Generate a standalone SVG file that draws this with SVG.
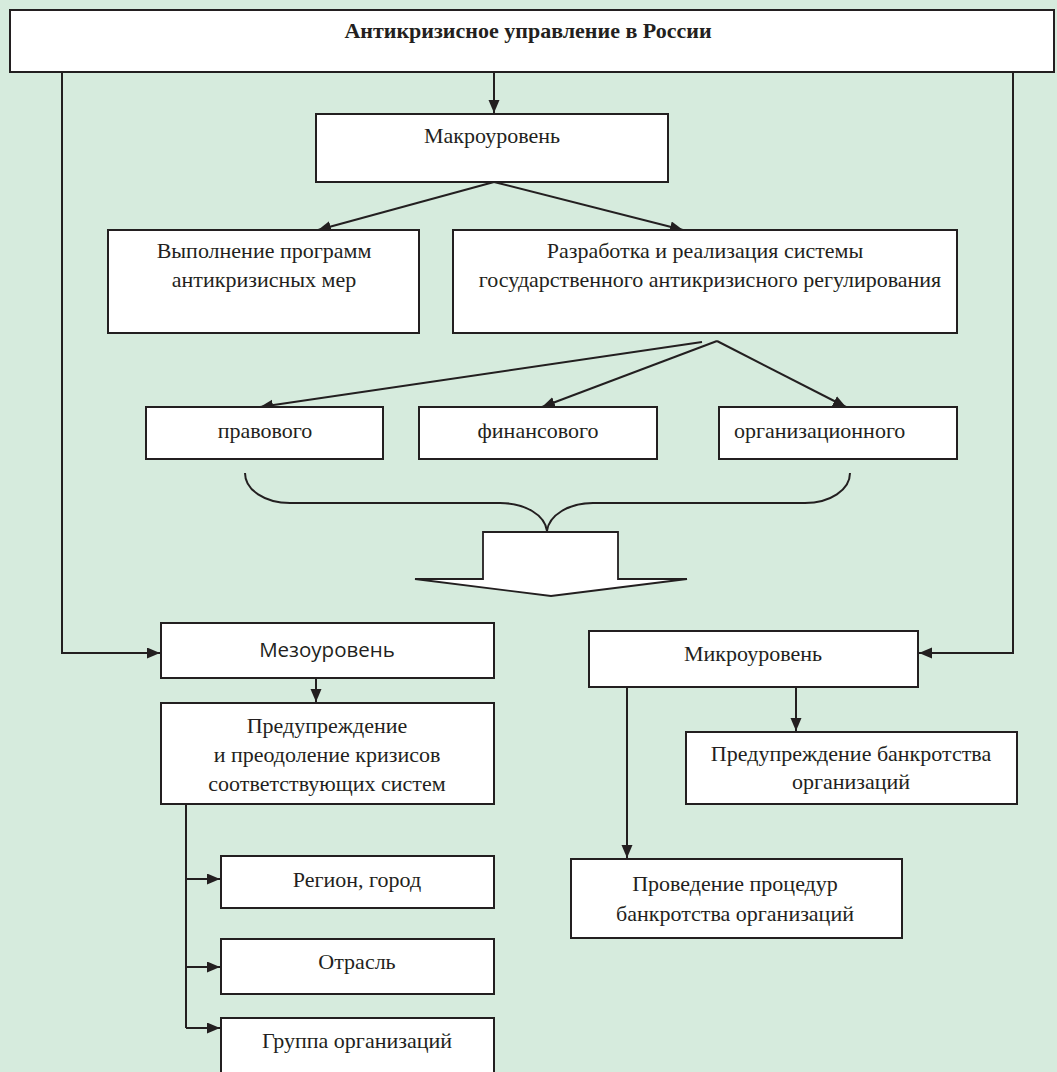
<svg xmlns="http://www.w3.org/2000/svg" width="1057" height="1072" viewBox="0 0 1057 1072">
<style>
.box{fill:#fff;stroke:#231f20;stroke-width:2}
.t{font-family:"Liberation Serif","Times New Roman",serif;font-size:22px;fill:#231f20;text-anchor:middle}
.tl{text-anchor:start}
.b{font-weight:bold;font-size:22px}
.s{font-family:"Open Sans","Noto Sans",sans-serif;font-size:20.5px;fill:#231f20;text-anchor:middle}
.c{fill:none;stroke:#231f20;stroke-width:2}
.ca{fill:none;stroke:#231f20;stroke-width:2;marker-end:url(#ah)}
</style>
<defs>
<marker id="ah" markerUnits="userSpaceOnUse" markerWidth="14" markerHeight="12" refX="13" refY="5.5" orient="auto">
<path d="M0,0 L13,5.5 L0,11 z" fill="#231f20"/>
</marker>
</defs>
<rect width="1057" height="1072" fill="#d6ebdd"/>

<g id="connectors">
<path class="ca" d="M62,72 V653 H160"/>
<path class="ca" d="M1013,72 V653 H919"/>
<path class="ca" d="M494,72 V113"/>
<path class="ca" d="M494,182 L318,230"/>
<path class="ca" d="M494,182 L683,230"/>
<path class="ca" d="M702,342 L260,407"/>
<path class="ca" d="M717,341 L542,407"/>
<path class="ca" d="M717,341 L846,407"/>
<path class="ca" d="M316,678 V702"/>
<path class="ca" d="M796,687 V731"/>
<path class="ca" d="M627,687 V858"/>
<path class="c" d="M186,804 V1028"/>
<path class="ca" d="M186,879 H220"/>
<path class="ca" d="M186,967 H220"/>
<path class="ca" d="M186,1028 H220"/>
</g>

<g id="brace">
<path class="c" d="M245,473 C245,490 265,503 290,503 L500,503 C525,503 545,515 547,531 C549,515 569,503 593,503 L805,503 C830,503 850,490 850,473" stroke-width="1.8"/>
</g>
<g id="big-arrow">
<path d="M483,532 H618 V579 H687 L551,596 L415,579 H483 Z" fill="#fff" stroke="#231f20" stroke-width="1.8"/>
</g>

<g id="root">
<rect class="box" x="10" y="10" width="1044" height="62"/>
<text class="t b" x="528" y="38">Антикризисное управление в России</text>
</g>
<g id="macro">
<rect class="box" x="316" y="114" width="352" height="68"/>
<text class="t" x="492" y="143">Макроуровень</text>
</g>
<g id="programs">
<rect class="box" x="108" y="230" width="311" height="103"/>
<text class="t" x="264" y="258">Выполнение программ</text>
<text class="t" x="264" y="287">антикризисных мер</text>
</g>
<g id="development">
<rect class="box" x="453" y="230" width="504" height="103"/>
<text class="t" x="705" y="258">Разработка и реализация системы</text>
<text class="t" x="710" y="287">государственного антикризисного регулирования</text>
</g>
<g id="legal">
<rect class="box" x="146" y="407" width="237" height="52"/>
<text class="t" x="265" y="438">правового</text>
</g>
<g id="financial">
<rect class="box" x="419" y="407" width="238" height="52"/>
<text class="t" x="538" y="438">финансового</text>
</g>
<g id="organizational">
<rect class="box" x="719" y="407" width="238" height="52"/>
<text class="t tl" x="734" y="438">организационного</text>
</g>
<g id="meso">
<rect class="box" x="161" y="623" width="333" height="55"/>
<text class="s" x="327" y="657">Мезоуровень</text>
</g>
<g id="meso-prevention">
<rect class="box" x="161" y="703" width="333" height="101"/>
<text class="t" x="327" y="733">Предупреждение</text>
<text class="t" x="327" y="762">и преодоление кризисов</text>
<text class="t" x="327" y="791">соответствующих систем</text>
</g>
<g id="region">
<rect class="box" x="221" y="856" width="273" height="52"/>
<text class="t" x="357" y="887">Регион, город</text>
</g>
<g id="industry">
<rect class="box" x="221" y="939" width="273" height="55"/>
<text class="t" x="357" y="969">Отрасль</text>
</g>
<g id="group">
<rect class="box" x="221" y="1018" width="273" height="70"/>
<text class="t" x="357" y="1048">Группа организаций</text>
</g>
<g id="micro">
<rect class="box" x="589" y="631" width="329" height="56"/>
<text class="t" x="753" y="661">Микроуровень</text>
</g>
<g id="bankruptcy-prevention">
<rect class="box" x="686" y="732" width="331" height="72"/>
<text class="t" x="851" y="761">Предупреждение банкротства</text>
<text class="t" x="851" y="789">организаций</text>
</g>
<g id="bankruptcy-procedures">
<rect class="box" x="571" y="859" width="331" height="79"/>
<text class="t" x="735" y="891">Проведение процедур</text>
<text class="t" x="735" y="921">банкротства организаций</text>
</g>
</svg>
